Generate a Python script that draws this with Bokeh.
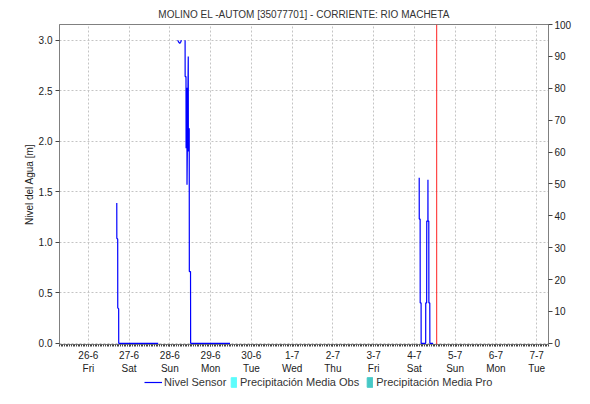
import numpy as np
import pandas as pd
from bokeh.plotting import figure
from bokeh.layouts import column
from bokeh.models import (Range1d, LinearAxis, FixedTicker, Span, Legend, LegendItem,
                          ColumnDataSource, PrintfTickFormatter)
from bokeh.embed import file_html
from bokeh.resources import INLINE

# ---------------- data ----------------
title_text = "MOLINO EL -AUTOM [35077701] - CORRIENTE: RIO MACHETA"
y_label = "Nivel del Agua [m]"
series_names = ["Nivel Sensor", "Precipitación Media Obs", "Precipitación Media Pro"]

level_times = [
    "2020-06-26 16:44", "2020-06-26 16:46", "2020-06-26 17:17", "2020-06-26 17:19",
    "2020-06-26 17:51", "2020-06-26 17:53", "2020-06-27 17:08", "2020-06-27 17:30",
    "2020-06-28 04:35", "2020-06-28 05:15", "2020-06-28 05:50", "2020-06-28 06:20",
    "2020-06-28 06:50", "2020-06-28 07:30",
    "2020-06-28 08:58", "2020-06-28 09:00", "2020-06-28 09:30", "2020-06-28 09:33",
    "2020-06-28 10:02", "2020-06-28 10:06", "2020-06-28 10:50", "2020-06-28 10:54",
    "2020-06-28 11:24", "2020-06-28 11:28", "2020-06-28 12:10", "2020-06-28 12:14",
    "2020-06-29 11:26", "2020-06-29 11:40",
    "2020-07-04 02:51", "2020-07-04 02:53", "2020-07-04 03:24", "2020-07-04 03:26",
    "2020-07-04 03:58", "2020-07-04 04:00", "2020-07-04 06:40", "2020-07-04 06:42",
    "2020-07-04 07:15", "2020-07-04 07:18", "2020-07-04 07:58", "2020-07-04 08:00",
    "2020-07-04 08:02", "2020-07-04 08:30", "2020-07-04 08:33", "2020-07-04 09:05",
    "2020-07-04 09:08", "2020-07-04 11:00",
]
level_values = [
    1.39, 1.04, 1.03, 0.35,
    0.34, 0.00, 0.00, np.nan,
    3.00, 2.98, 2.97, 2.98,
    3.00, np.nan,
    3.00, 2.64, 2.64, 1.93,
    2.53, 1.57, 2.84, 1.90,
    2.13, 0.71, 0.71, 0.00,
    0.00, np.nan,
    1.64, 1.23, 1.23, 0.40,
    0.40, 0.00, 0.00, 0.40,
    0.40, 1.21, 1.21, 1.62,
    1.21, 1.21, 0.40, 0.40,
    0.00, 0.00,
]

# precipitation series: no values in the period shown
precip_obs_times = []
precip_obs_values = []
precip_pro_times = []
precip_pro_values = []

tick_dates = ["2020-06-26", "2020-06-27", "2020-06-28", "2020-06-29", "2020-06-30",
              "2020-07-01", "2020-07-02", "2020-07-03", "2020-07-04", "2020-07-05",
              "2020-07-06", "2020-07-07"]
tick_labels = ["26-6\nFri", "27-6\nSat", "28-6\nSun", "29-6\nMon", "30-6\nTue",
               "1-7\nWed", "2-7\nThu", "3-7\nFri", "4-7\nSat", "5-7\nSun",
               "6-7\nMon", "7-7\nTue"]
left_ticks = [0.0, 0.5, 1.0, 1.5, 2.0, 2.5, 3.0]
right_ticks = [0, 10, 20, 30, 40, 50, 60, 70, 80, 90, 100]

x_start = "2020-06-25 07:00"
x_end = "2020-07-07 07:00"
now_marker = "2020-07-04 13:09"

left_min, left_max = -0.012, 3.156
right_min, right_max = -0.38, 100

# ---------------- helpers ----------------
def ms(s):
    return int(pd.Timestamp(s).value // 10**6)

FONT = "Liberation Sans"
AXIS_COLOR = "#808080"
TICK_COLOR = "#444444"
TEXT_COLOR = "#222222"
LINE_BLUE = "#0000FF"
OBS_COLOR = "#5CFCFC"
PRO_COLOR = "#46C8C6"
FRAME_LEFT = 59

p = figure(width=574, height=376, x_axis_type="datetime",
           x_range=Range1d(ms(x_start), ms(x_end)),
           y_range=Range1d(left_min, left_max),
           output_backend="svg", toolbar_location=None,
           min_border_left=FRAME_LEFT, min_border_right=0, min_border_bottom=29,
           min_border_top=24)

p.title.text = title_text
p.title.align = "center"
p.title.text_font = FONT
p.title.text_font_size = "10px"
p.title.text_font_style = "normal"
p.title.text_color = "#333333"
p.title.standoff = 10

p.outline_line_color = AXIS_COLOR
p.background_fill_color = "white"
p.border_fill_color = "white"

# level line
src = ColumnDataSource(dict(t=[ms(t) for t in level_times], v=level_values))
p.line("t", "v", source=src, line_color=LINE_BLUE, line_width=1.2)

# precipitation (right axis)
p.extra_y_ranges = {"precip": Range1d(right_min, right_max)}
p.vbar(x=[ms(t) for t in precip_obs_times], top=precip_obs_values, width=3600000,
       y_range_name="precip", fill_color=OBS_COLOR, line_color=OBS_COLOR)
p.vbar(x=[ms(t) for t in precip_pro_times], top=precip_pro_values, width=3600000,
       y_range_name="precip", fill_color=PRO_COLOR, line_color=PRO_COLOR)

# now marker
p.add_layout(Span(location=ms(now_marker), dimension="height",
                  line_color="#FF2020", line_width=1))

# x axis
xa = p.xaxis[0]
tick_ms = [ms(d) for d in tick_dates]
minor = list(range(ms(x_start), ms(x_end) + 1, 3600000))
xa.ticker = FixedTicker(ticks=tick_ms, minor_ticks=minor)
xa.major_label_overrides = {t: l for t, l in zip(tick_ms, tick_labels)}
xa.axis_line_color = AXIS_COLOR
xa.major_tick_line_color = TICK_COLOR
xa.minor_tick_line_color = TICK_COLOR
xa.major_tick_out = 2
xa.major_tick_in = 0
xa.minor_tick_out = 2
xa.minor_tick_in = 0
xa.major_label_text_font = FONT
xa.major_label_text_font_size = "10px"
xa.major_label_text_color = TEXT_COLOR
xa.major_label_standoff = 3

# left y axis
ya = p.yaxis[0]
ya.ticker = FixedTicker(ticks=left_ticks)
ya.formatter = PrintfTickFormatter(format="%.1f")
ya.axis_label = y_label
ya.axis_label_text_font = FONT
ya.axis_label_text_font_size = "10px"
ya.axis_label_text_font_style = "normal"
ya.axis_label_text_color = TEXT_COLOR
ya.axis_label_standoff = 1
ya.axis_line_color = AXIS_COLOR
ya.major_tick_line_color = TICK_COLOR
ya.major_tick_out = 4
ya.major_tick_in = 0
ya.minor_tick_line_color = None
ya.major_label_text_font = FONT
ya.major_label_text_font_size = "10px"
ya.major_label_text_color = TEXT_COLOR
ya.major_label_standoff = 3

# right y axis
ra = LinearAxis(y_range_name="precip", ticker=FixedTicker(ticks=right_ticks))
ra.axis_line_color = AXIS_COLOR
ra.major_tick_line_color = TICK_COLOR
ra.major_tick_out = 4
ra.major_tick_in = 0
ra.minor_tick_line_color = None
ra.major_label_text_font = FONT
ra.major_label_text_font_size = "10px"
ra.major_label_text_color = TEXT_COLOR
ra.major_label_standoff = 2
p.add_layout(ra, "right")

# grids
p.xgrid[0].ticker = FixedTicker(ticks=tick_ms)
p.ygrid[0].ticker = FixedTicker(ticks=left_ticks)
for g in (p.xgrid[0], p.ygrid[0]):
    g.grid_line_color = "#C4C4C4"
    g.grid_line_dash = "2 2"
    g.grid_line_width = 1

# ---------------- legend strip ----------------
lf = figure(width=574, height=12, x_range=Range1d(0, 1), y_range=Range1d(0, 1),
            output_backend="svg", toolbar_location=None,
            x_axis_location=None, y_axis_location=None,
            min_border_left=0, min_border_right=0, min_border_top=0, min_border_bottom=0)
lf.grid.visible = False
lf.outline_line_color = None
lf.background_fill_color = "white"
lf.border_fill_color = "white"

# legend proxies: same styles, placed outside the strip's visible range
e_line = lf.line(x=[ms(t) for t in level_times], y=level_values,
                 line_color=LINE_BLUE, line_width=1.2)
e_obs = lf.vbar(x=[-5], top=[0], width=1, fill_color=OBS_COLOR, line_color=OBS_COLOR)
e_pro = lf.vbar(x=[-5], top=[0], width=1, fill_color=PRO_COLOR, line_color=PRO_COLOR)

common = dict(orientation="horizontal", glyph_height=12, label_height=12,
              padding=0, margin=0, border_line_color=None, background_fill_alpha=0,
              label_text_font=FONT, label_text_font_size="11px",
              label_text_color="#333333")
leg1 = Legend(items=[LegendItem(label=series_names[0], renderers=[e_line])],
              location=(144 - FRAME_LEFT, 0), glyph_width=18, label_standoff=2,
              spacing=0, **common)
leg2 = Legend(items=[LegendItem(label=series_names[1], renderers=[e_obs]),
                     LegendItem(label=series_names[2], renderers=[e_pro])],
              location=(230 - FRAME_LEFT, 0), glyph_width=7, label_standoff=3,
              spacing=7, **common)
lf.add_layout(leg1, "center")
lf.add_layout(leg2, "center")

layout = column(p, lf, spacing=0)
open("out.html", "w").write(file_html(layout, INLINE))
